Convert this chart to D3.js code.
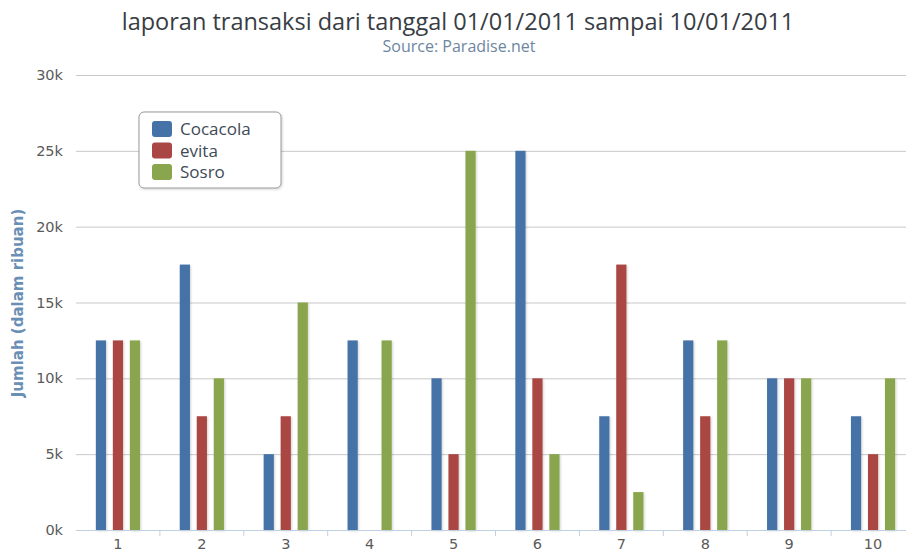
<!DOCTYPE html>
<html><head><meta charset="utf-8">
<script src="https://cdn.jsdelivr.net/npm/d3@7/dist/d3.min.js"></script>
<style>body{margin:0;background:#fff;}svg{display:block;font-family:"DejaVu Sans",sans-serif;}</style>
</head><body><svg id="c" width="906" height="552"></svg>
<script>
const categories = ["1","2","3","4","5","6","7","8","9","10"];
const seriesNames = ["Cocacola","evita","Sosro"];
const seriesColors = ["#4572A7","#AA4643","#89A54E"];
const cocacola = [12500,17500,5000,12500,10000,25000,7500,12500,10000,7500];
const evita    = [12500,7500,7500,0,5000,10000,17500,7500,10000,5000];
const sosro    = [12500,10000,15000,12500,25000,5000,2500,12500,10000,10000];
const yTicks = [0,5000,10000,15000,20000,25000,30000];
const titleText = "laporan transaksi dari tanggal 01/01/2011 sampai 10/01/2011";
const subtitleText = "Source: Paradise.net";
const yTitle = "Jumlah (dalam ribuan)";

const seriesValues = [cocacola, evita, sosro];
const svg = d3.select("#c");
const defs = svg.append("defs");
const f = defs.append("filter").attr("id","sh").attr("x","-20%").attr("y","-20%").attr("width","150%").attr("height","150%");
f.append("feDropShadow").attr("dx",1).attr("dy",1).attr("stdDeviation",1.2).attr("flood-color","#000").attr("flood-opacity",0.18);

const x = d3.scaleBand().domain(categories).range([76, 915]);
const x1 = d3.scaleBand().domain(seriesNames).range([-25.5, 25.5]).paddingInner(0.4).paddingOuter(0.2);
const y = d3.scaleLinear().domain([0, 30000]).range([530, 75]);

// grid
const gy = svg.append("g").attr("transform","translate(76,0)")
  .call(d3.axisLeft(y).tickValues(yTicks).tickSize(-840).tickPadding(13).tickFormat(d => (d/1000) + "k"));
gy.select(".domain").remove();
gy.selectAll(".tick line").attr("stroke","#c8c8c8").attr("stroke-width",1);
gy.selectAll(".tick text").attr("fill","#5a5a5a").style("font-size","14.5px").style("font-family","'DejaVu Sans',sans-serif");

// bars
const groups = svg.append("g").selectAll("g").data(categories).join("g")
  .attr("transform", d => `translate(${x(d) + x.bandwidth()/2},0)`);
groups.selectAll("rect").data((c,i) => seriesNames.map((s,j) => ({s, j, v: seriesValues[j][i]})))
  .join("rect")
  .attr("x", d => x1(d.s)).attr("width", x1.bandwidth())
  .attr("y", d => y(d.v)).attr("height", d => y(0) - y(d.v))
  .attr("fill", d => seriesColors[d.j])
  .attr("filter","url(#sh)");

// x axis
const gx = svg.append("g").attr("transform","translate(0,530)")
  .call(d3.axisBottom(x).tickSize(0).tickPadding(9));
gx.select(".domain").attr("stroke","#c0d0e0");
gx.selectAll(".tick text").attr("fill","#5a5a5a").style("font-size","14.5px").style("font-family","'DejaVu Sans',sans-serif");
svg.append("g").selectAll("line").data(categories.slice(1)).join("line")
  .attr("x1", d => x(d)).attr("x2", d => x(d)).attr("y1",530).attr("y2",536)
  .attr("stroke","#c0d0e0");

// titles
svg.append("text").attr("x",458).attr("y",30).attr("text-anchor","middle")
  .attr("fill","#383d44").style("font-size","23.5px").style("font-family","'Open Sans',sans-serif").text(titleText);
svg.append("text").attr("x",459).attr("y",52).attr("text-anchor","middle")
  .attr("fill","#6D869F").style("font-size","16px").style("font-family","'Open Sans',sans-serif").text(subtitleText);
svg.append("text").attr("transform","translate(23,303) rotate(-90)").attr("text-anchor","middle")
  .attr("fill","#6a8fb6").style("font-size","15px").style("font-weight","bold").text(yTitle);

// legend
const lg = svg.append("g").attr("transform","translate(139,112)");
lg.append("rect").attr("width",142).attr("height",76).attr("rx",5).attr("fill","#fff")
  .attr("stroke","#999").attr("stroke-width",1).attr("filter","url(#sh)");
seriesNames.forEach((s,i) => {
  const r = lg.append("g").attr("transform",`translate(13,${9 + i*21.5})`);
  r.append("rect").attr("width",20).attr("height",16).attr("rx",3).attr("fill",seriesColors[i]);
  r.append("text").attr("x",28).attr("y",14).attr("fill","#3E4A57")
    .style("font-size","17px").style("font-family","'Open Sans',sans-serif").text(s);
});
</script></body></html>
